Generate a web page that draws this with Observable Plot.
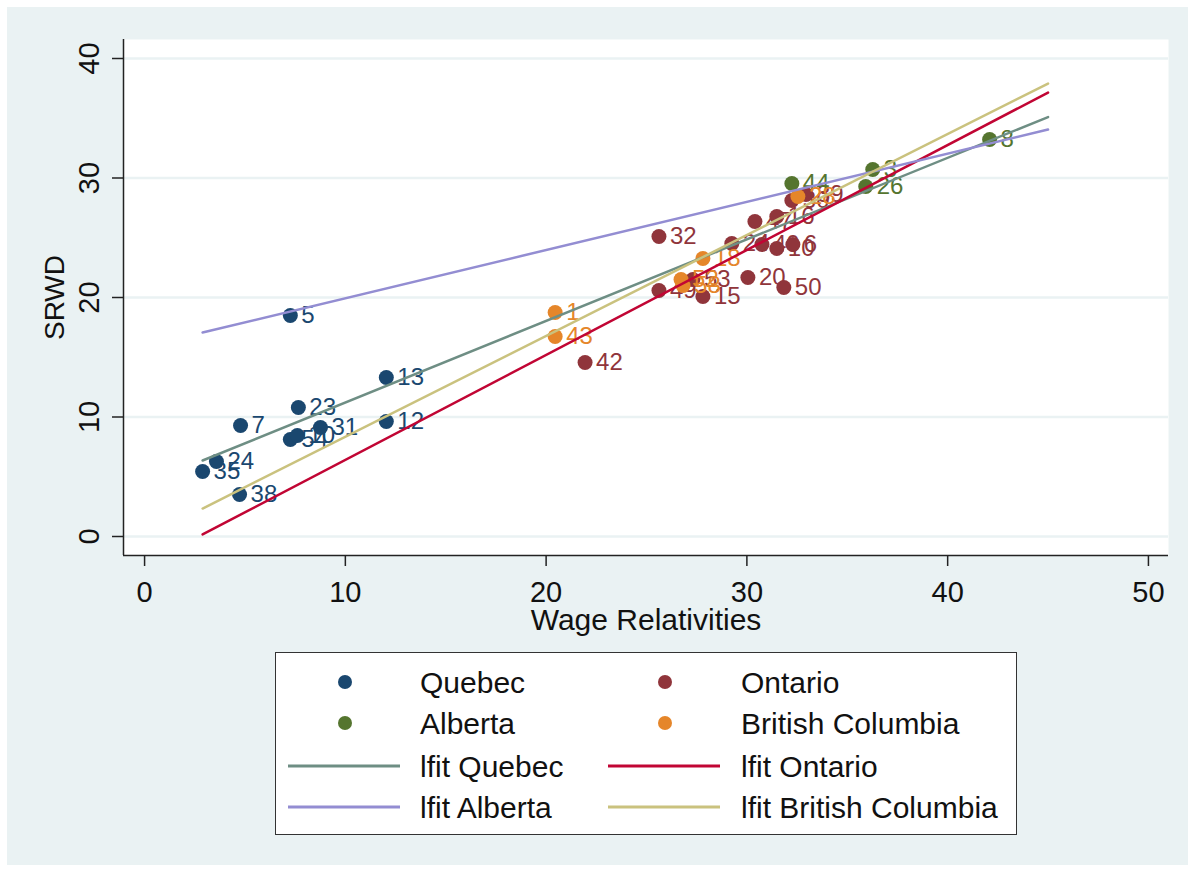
<!DOCTYPE html>
<html>
<head>
<meta charset="utf-8">
<script src="https://cdn.jsdelivr.net/npm/d3@7"></script>
<script src="https://cdn.jsdelivr.net/npm/@observablehq/plot@0.6"></script>
<style>
  body { margin: 0; background: #ffffff; font-family: "Liberation Sans", Arial, sans-serif; }
  #bg { position: absolute; left: 7px; top: 7px; width: 1181px; height: 858px; background: #eaf2f3; }
  #chart { position: absolute; left: 0; top: 0; }
  #legend { position: absolute; left: 275px; top: 652px; width: 740px; height: 181px; background: #ffffff; border: 1.5px solid #333333; }
</style>
</head>
<body>
<div id="bg"></div>
<div id="chart"></div>
<div id="legend"></div>
<script>
// ---- data ----
const provinces = ["Quebec", "Ontario", "Alberta", "British Columbia"];
const markerColors = ["#1a476f", "#90353b", "#55752f", "#e5862a"];
const fitColors = ["#6e8e84", "#c10534", "#938dd2", "#cac27e"];

const quebecX   = [7.26, 12.04, 7.66, 4.78, 8.76, 12.04, 7.26, 7.61, 3.58, 2.89, 4.73];
const quebecY   = [18.49, 13.3, 10.8, 9.29, 9.12, 9.62, 8.12, 8.45, 6.28, 5.44, 3.51];
const quebecLab = ["5", "13", "23", "7", "31", "12", "54", "10", "24", "35", "38"];

const ontarioX   = [25.62, 21.94, 25.62, 27.81, 27.31, 30.05, 31.84, 29.25, 30.75, 31.49, 32.29, 30.4, 31.49, 32.24, 32.94];
const ontarioY   = [25.1, 14.56, 20.59, 20.08, 21.5, 21.67, 20.84, 24.52, 24.43, 24.1, 24.43, 26.36, 26.78, 28.12, 28.62];
const ontarioLab = ["32", "42", "49", "15", "53", "20", "50", "24", "40", "10", "6", "47", "16", "30", "39"];

const albertaX   = [32.24, 36.27, 35.92, 42.09];
const albertaY   = [29.54, 30.71, 29.29, 33.22];
const albertaLab = ["44", "3", "26", "8"];

const bcX   = [20.45, 20.45, 27.81, 26.72, 26.82, 32.54];
const bcY   = [18.74, 16.74, 23.26, 21.5, 21.0, 28.45];
const bcLab = ["1", "43", "18", "52", "58", "28"];

// fitted lines (lfit) endpoints
const fitX = [2.89, 45];
const fitQuebec  = [6.36, 35.1];
const fitOntario = [0.17, 37.15];
const fitAlberta = [17.07, 34.06];
const fitBC      = [2.34, 37.9];

const xTicks = [0, 10, 20, 30, 40, 50];
const yTicks = [0, 10, 20, 30, 40];
const xDomain = [-1.05, 51.0];
const yDomain = [-1.59, 41.59];
const xTitle = "Wage Relativities";
const yTitle = "SRWD";
const legendLabels = ["Quebec", "Ontario", "Alberta", "British Columbia",
  "lfit Quebec", "lfit Ontario", "lfit Alberta", "lfit British Columbia"];

// ---- build ----
const rows = (xs, ys, ls) => xs.map((x, j) => ({x, y: ys[j], label: ls[j]}));
const series = [
  rows(quebecX, quebecY, quebecLab),
  rows(ontarioX, ontarioY, ontarioLab),
  rows(albertaX, albertaY, albertaLab),
  rows(bcX, bcY, bcLab)
];
const fits = [fitQuebec, fitOntario, fitAlberta, fitBC].map(f => fitX.map((x, j) => ({x, y: f[j]})));

const axisColor = "#222222";
const marks = [
  Plot.frame({fill: "#ffffff", stroke: null}),
  Plot.gridY(yTicks, {stroke: "#eaf2f3", strokeOpacity: 1, strokeWidth: 2.5}),
  Plot.ruleX([xDomain[0]], {stroke: axisColor, strokeWidth: 1.5}),
  Plot.ruleY([yDomain[0]], {stroke: axisColor, strokeWidth: 1.5}),
  Plot.axisX(xTicks, {anchor: "bottom", tickSize: 11, stroke: axisColor, strokeWidth: 1.5, fill: "none", label: null}),
  Plot.axisY(yTicks, {anchor: "left", tickSize: 11, stroke: axisColor, strokeWidth: 1.5, fill: "none", label: null}),
  Plot.text(xTicks, {x: d => d, frameAnchor: "bottom", dy: 46, lineAnchor: "bottom", text: d => String(d), fontSize: 29, fill: "#111"}),
  Plot.text(yTicks, {y: d => d, frameAnchor: "left", dx: -34, rotate: -90, textAnchor: "middle", lineAnchor: "middle", text: d => String(d), fontSize: 29, fill: "#111"}),
  Plot.text([xTitle], {frameAnchor: "bottom", dy: 74, lineAnchor: "bottom", text: d => d, fontSize: 30, fill: "#111"}),
  Plot.text([yTitle], {frameAnchor: "left", dx: -68, rotate: -90, textAnchor: "middle", lineAnchor: "middle", text: d => d, fontSize: 28, fill: "#111"})
];
series.forEach((s, i) => {
  marks.push(Plot.dot(s, {x: "x", y: "y", r: 7.5, fill: markerColors[i], stroke: null}));
  marks.push(Plot.text(s, {x: "x", y: "y", text: "label", dx: 11, textAnchor: "start", lineAnchor: "middle", fontSize: 24, fill: markerColors[i]}));
});
fits.forEach((f, i) => {
  marks.push(Plot.line(f, {x: "x", y: "y", stroke: fitColors[i], strokeWidth: 2.5}));
});

const chart = Plot.plot({
  width: 1195,
  height: 645,
  marginLeft: 123,
  marginRight: 27,
  marginTop: 39,
  marginBottom: 90,
  style: {background: "transparent", fontFamily: "'Liberation Sans', Arial, sans-serif"},
  x: {domain: xDomain, axis: null},
  y: {domain: yDomain, axis: null},
  marks
});
document.getElementById("chart").appendChild(chart);

// ---- legend ----
const lg = d3.select("#legend").append("svg").attr("width", 740).attr("height", 181)
  .style("font-family", "'Liberation Sans', Arial, sans-serif");
const rowY = [29, 70, 113, 154];
const colMarker = [69, 389], colLine = [[12, 124], [332, 444]], colText = [144, 465];
legendLabels.forEach((lab, k) => {
  const r = Math.floor(k / 2), c = k % 2;
  const prov = (r % 2) * 2 + c; // index in provinces
  const y = rowY[r];
  if (r < 2) {
    lg.append("circle").attr("cx", colMarker[c]).attr("cy", y).attr("r", 7).attr("fill", markerColors[prov]);
  } else {
    lg.append("line").attr("x1", colLine[c][0]).attr("x2", colLine[c][1]).attr("y1", y).attr("y2", y)
      .attr("stroke", fitColors[prov]).attr("stroke-width", 3);
  }
  lg.append("text").attr("x", colText[c]).attr("y", y).attr("dy", "0.35em")
    .attr("font-size", 30).attr("fill", "#111").text(lab);
});
</script>
</body>
</html>
